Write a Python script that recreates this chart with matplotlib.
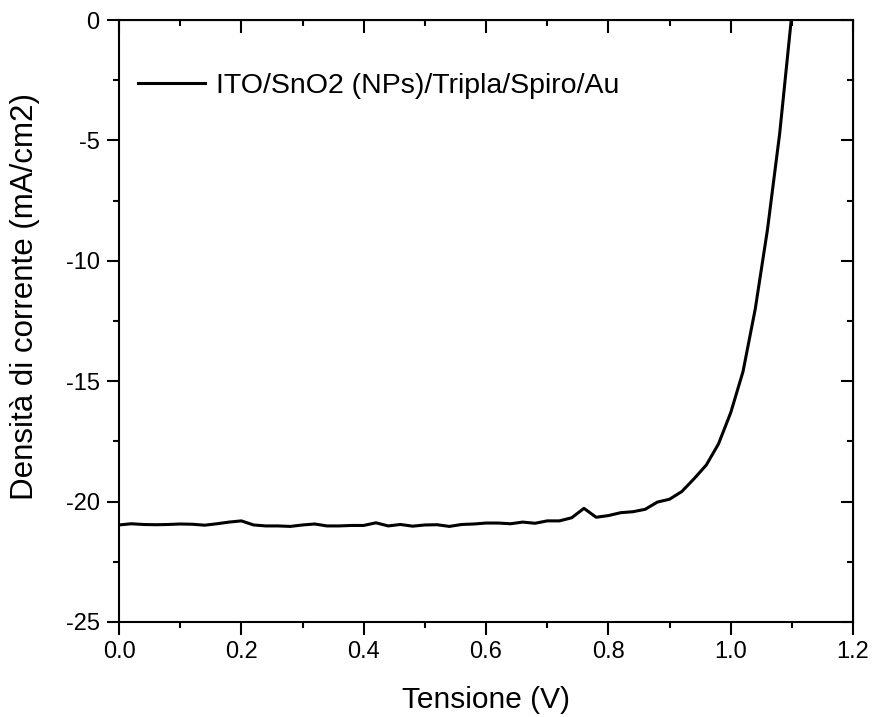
import matplotlib
matplotlib.use("Agg")
import matplotlib.pyplot as plt
from matplotlib.ticker import MultipleLocator

plt.rcParams['font.family'] = ['Liberation Sans', 'DejaVu Sans']

# J-V curve
voltage = [0.00, 0.02, 0.04, 0.06, 0.08, 0.10, 0.12, 0.14, 0.16, 0.18,
           0.20, 0.22, 0.24, 0.26, 0.28, 0.30, 0.32, 0.34, 0.36, 0.38,
           0.40, 0.42, 0.44, 0.46, 0.48, 0.50, 0.52, 0.54, 0.56, 0.58,
           0.60, 0.62, 0.64, 0.66, 0.68, 0.70, 0.72, 0.74, 0.76, 0.78,
           0.80, 0.82, 0.84, 0.86, 0.88, 0.90, 0.92, 0.94, 0.96, 0.98,
           1.00, 1.02, 1.04, 1.06, 1.08, 1.10]
current = [-20.97, -20.92, -20.95, -20.96, -20.95, -20.93, -20.94, -20.98, -20.92, -20.85,
           -20.80, -20.97, -21.01, -21.01, -21.03, -20.97, -20.93, -21.01, -21.01, -20.99,
           -20.99, -20.88, -21.01, -20.95, -21.02, -20.97, -20.96, -21.03, -20.95, -20.93,
           -20.89, -20.89, -20.92, -20.85, -20.90, -20.80, -20.80, -20.67, -20.28, -20.65,
           -20.58, -20.46, -20.42, -20.32, -20.02, -19.90, -19.58, -19.05, -18.48, -17.60,
           -16.30, -14.60, -12.00, -8.70, -4.70, 0.30]

legend_label = "ITO/SnO2 (NPs)/Tripla/Spiro/Au"

fig = plt.figure(figsize=(8.75, 7.17), dpi=100)
ax = fig.add_axes([0.136, 0.1325, 0.839, 0.8395])

ax.plot(voltage, current, color='black', lw=2.2, label=legend_label)

ax.set_xlim(0, 1.2)
ax.set_ylim(-25, 0)
ax.xaxis.set_minor_locator(MultipleLocator(0.1))
ax.yaxis.set_minor_locator(MultipleLocator(2.5))
ax.set_xticks([0, 0.2, 0.4, 0.6, 0.8, 1.0, 1.2])
ax.set_xticklabels(['0.0', '0.2', '0.4', '0.6', '0.8', '1.0', '1.2'])
ax.set_yticks([0, -5, -10, -15, -20, -25])
ax.set_yticklabels(['0', '-5', '-10', '-15', '-20', '-25'])

for s in ax.spines.values():
    s.set_linewidth(1.5)

ax.tick_params(which='both', direction='out', width=1.5, labelsize=17, pad=5)
ax.tick_params(which='major', length=9)
ax.tick_params(which='minor', length=4.5)

# top and right ticks pointing in, no labels
ax_top = ax.secondary_xaxis('top')
ax_top.xaxis.set_major_locator(MultipleLocator(0.2))
ax_top.xaxis.set_minor_locator(MultipleLocator(0.1))
ax_top.tick_params(which='both', direction='in', width=1.5, labeltop=False)
ax_top.tick_params(which='major', length=9)
ax_top.tick_params(which='minor', length=4.5)
ax_right = ax.secondary_yaxis('right')
ax_right.yaxis.set_major_locator(MultipleLocator(5))
ax_right.yaxis.set_minor_locator(MultipleLocator(2.5))
ax_right.tick_params(which='both', direction='in', width=1.5, labelright=False)
ax_right.tick_params(which='major', length=9)
ax_right.tick_params(which='minor', length=4.5)

ax.set_xlabel("Tensione (V)", fontsize=21.5, labelpad=16)
ax.set_ylabel("Densità di corrente (mA/cm2)", fontsize=22.5)
ax.yaxis.set_label_coords(-0.108, 0.54)

ax.legend(loc='center left', bbox_to_anchor=(0.026, 0.89), frameon=False,
          fontsize=20.5, handlelength=2.35, handletextpad=0.4,
          borderpad=0, borderaxespad=0)

fig.savefig("out.png", dpi=100)
